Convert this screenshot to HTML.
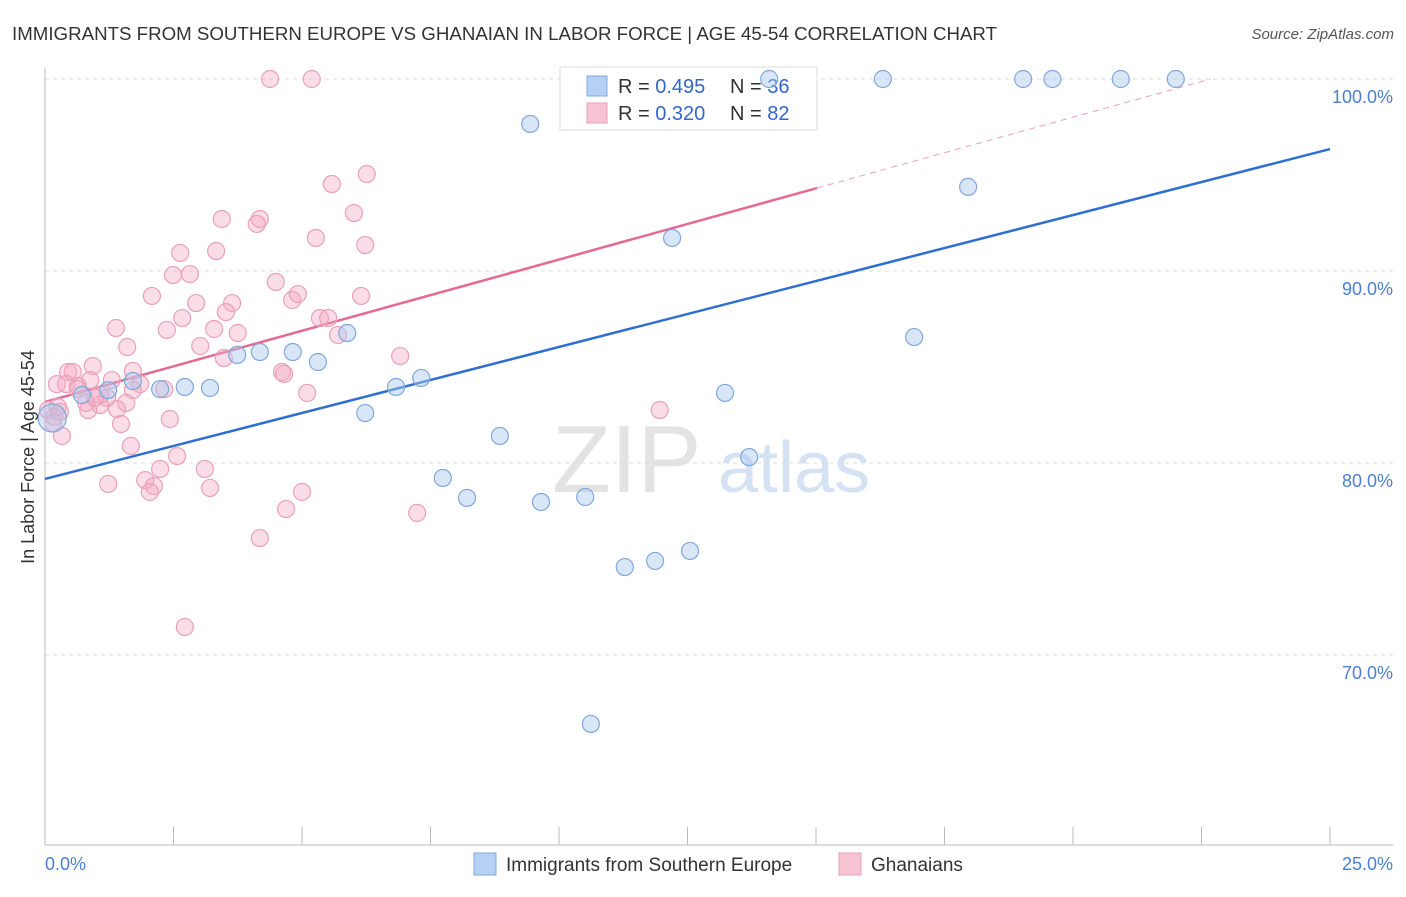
<!DOCTYPE html>
<html><head><meta charset="utf-8"><style>
body{margin:0;background:#fff;font-family:"Liberation Sans",sans-serif;}
svg text{font-family:"Liberation Sans",sans-serif;}
</style></head><body>
<svg id="chart" width="1406" height="892" xmlns="http://www.w3.org/2000/svg">
<text x="12" y="40" font-size="18.7" fill="#333" textLength="985">IMMIGRANTS FROM SOUTHERN EUROPE VS GHANAIAN IN LABOR FORCE | AGE 45-54 CORRELATION CHART</text>
<text x="1394" y="39" font-size="15" fill="#555" text-anchor="end" font-style="italic">Source: ZipAtlas.com</text>
<g>
<text x="552" y="492" font-size="96" fill="#d8d8d8" font-family="Liberation Serif, serif" opacity="0.7">ZIP</text>
<text x="718" y="492" font-size="72" fill="#b8cfee" opacity="0.6">atlas</text>
</g>
<g id="grid"></g>
<g id="axes"></g>
<g>
<rect x="560" y="67" width="257" height="63" fill="#fff" stroke="#ddd"/>
<rect x="587" y="76" width="20" height="20" fill="#b5d0f3" stroke="#7fa8dc"/>
<rect x="587" y="103" width="20" height="20" fill="#f8c3d3" stroke="#e8a0b8"/>
<text x="618" y="93" font-size="20" fill="#333">R = <tspan fill="#3366cc">0.495</tspan><tspan x="730">N = </tspan><tspan fill="#3366cc">36</tspan></text>
<text x="618" y="120" font-size="20" fill="#333">R = <tspan fill="#3366cc">0.320</tspan><tspan x="730">N = </tspan><tspan fill="#3366cc">82</tspan></text>
</g>
<g id="trend"></g>
<g id="pts"></g>
<text transform="translate(34,457) rotate(-90)" font-size="18" fill="#333" text-anchor="middle">In Labor Force | Age 45-54</text>
<g>
<rect x="474" y="853" width="22" height="22" fill="#b5d0f3" stroke="#7fa8dc"/>
<text x="506" y="871" font-size="19" fill="#333">Immigrants from Southern Europe</text>
<rect x="839" y="853" width="22" height="22" fill="#f8c3d3" stroke="#e8a0b8"/>
<text x="871" y="871" font-size="19" fill="#333">Ghanaians</text>
</g>
</svg>
<script>
const blueX=[0.14,0.72,1.23,1.71,2.24,2.72,3.21,3.74,4.18,4.82,5.31,5.88,6.23,6.83,7.32,7.74,8.21,8.85,9.44,9.65,10.51,11.28,11.87,12.20,12.55,10.62,13.23,13.70,14.09,16.30,16.91,17.96,19.03,19.60,20.93,22.00];
const blueY=[82.34,83.54,83.80,84.27,83.85,83.96,83.91,85.63,85.78,85.78,85.26,86.77,82.60,83.96,84.43,79.22,78.18,81.41,97.66,77.97,78.23,74.58,74.90,91.72,75.42,66.41,83.65,80.31,100,100,86.56,94.38,100,100,100,100];
const pinkX=[4.38,5.19,6.26,5.58,6.01,3.44,4.18,4.12,6.23,5.27,3.33,2.63,2.49,2.82,4.49,2.08,4.81,4.92,2.94,3.64,6.15,3.52,2.67,2.37,1.38,3.29,3.75,5.35,5.51,5.70,1.60,3.02,3.48,6.91,0.93,0.45,0.54,1.71,0.88,4.61,4.65,0.23,0.41,0.64,1.30,1.85,1.71,2.32,0.64,1.07,1.21,1.58,0.80,1.07,1.40,0.84,0.25,0.18,0.16,0.33,1.48,5.10,2.43,1.67,2.57,2.24,3.11,1.95,2.12,2.04,1.23,3.21,5.00,4.69,7.24,11.96,4.18,2.72,0.06,0.29,0.97];
const pinkY=[100,100,95.05,94.53,93.02,92.71,92.71,92.45,91.35,91.72,91.04,90.94,89.79,89.84,89.43,88.70,88.49,88.80,88.33,88.33,88.70,87.86,87.55,86.93,87.03,86.98,86.77,87.55,87.55,86.67,86.04,86.09,85.47,85.57,85.05,84.74,84.74,84.79,84.32,84.74,84.64,84.11,84.11,84.01,84.32,84.11,83.80,83.85,83.85,83.54,83.39,83.13,83.13,83.02,82.81,82.76,82.92,82.40,82.08,81.41,82.03,83.65,82.29,80.89,80.36,79.69,79.69,79.11,78.80,78.49,78.91,78.70,78.49,77.60,77.40,82.76,76.09,71.46,82.76,82.66,83.39];
const yTicks=[100,90,80,70];
const yTickLabels=["100.0%","90.0%","80.0%","70.0%"];
const xTicks=[0,2.5,5,7.5,10,12.5,15,17.5,20,22.5,25];
const blueTrend=[0,79.17,25,96.35];
const pinkTrend=[0,83.18,15.02,94.32];
const pinkDash=[15.02,94.32,22.68,100];

const NS="http://www.w3.org/2000/svg";
const sx=v=>45+v*51.4, sy=v=>79+(100-v)*19.2;
function mk(p,t,a){const e=document.createElementNS(NS,t);for(const k in a)e.setAttribute(k,a[k]);document.getElementById(p).appendChild(e);return e;}
yTicks.forEach((t,i)=>{
 const l=mk('grid','line',{x1:45,x2:1393,y1:sy(t),y2:sy(t),stroke:'#ddd','stroke-dasharray':'4,4'});
 
 
 const tx=mk('grid','text',{x:1393,y:sy(t)+24,'font-size':18,fill:'#4a7fd4','text-anchor':'end'});
 tx.textContent=yTickLabels[i];
 
 
});
mk('axes','line',{x1:45,x2:45,y1:68,y2:845,stroke:'#bbb'});
mk('axes','line',{x1:45,x2:1393,y1:845,y2:845,stroke:'#bbb'});
xTicks.forEach(t=>{const l=mk('axes','line',{x1:sx(t),x2:sx(t),y1:827,y2:845,stroke:'#bbb'});
 
 });
const x0=mk('axes','text',{x:45,y:870,'font-size':18,fill:'#4a7fd4'});x0.textContent='0.0%';


const x1=mk('axes','text',{x:1393,y:870,'font-size':18,fill:'#4a7fd4','text-anchor':'end'});x1.textContent='25.0%';



pinkX.forEach((x,i)=>{const c=mk('pts','circle',{cx:sx(x),cy:sy(pinkY[i]),r:8.5,fill:'rgba(245,170,195,0.4)',stroke:'#eaa0b9','stroke-width':1.2});
 
 });
blueX.forEach((x,i)=>{const c=mk('pts','circle',{cx:sx(x),cy:sy(blueY[i]),r:i===0?14:8.5,fill:'rgba(170,200,240,0.45)',stroke:'#7fa8dc','stroke-width':1.2});
 
 });
const bt=mk('trend','line',{x1:sx(blueTrend[0]),y1:sy(blueTrend[1]),x2:sx(blueTrend[2]),y2:sy(blueTrend[3]),stroke:'#2f6fd0','stroke-width':2.5});


const pt=mk('trend','line',{x1:sx(pinkTrend[0]),y1:sy(pinkTrend[1]),x2:sx(pinkTrend[2]),y2:sy(pinkTrend[3]),stroke:'#e46a94','stroke-width':2.5});


const pd=mk('trend','line',{x1:sx(pinkDash[0]),y1:sy(pinkDash[1]),x2:sx(pinkDash[2]),y2:sy(pinkDash[3]),stroke:'#eaa0b9','stroke-width':1,'stroke-dasharray':'6,5'});


</script>
</body></html>
